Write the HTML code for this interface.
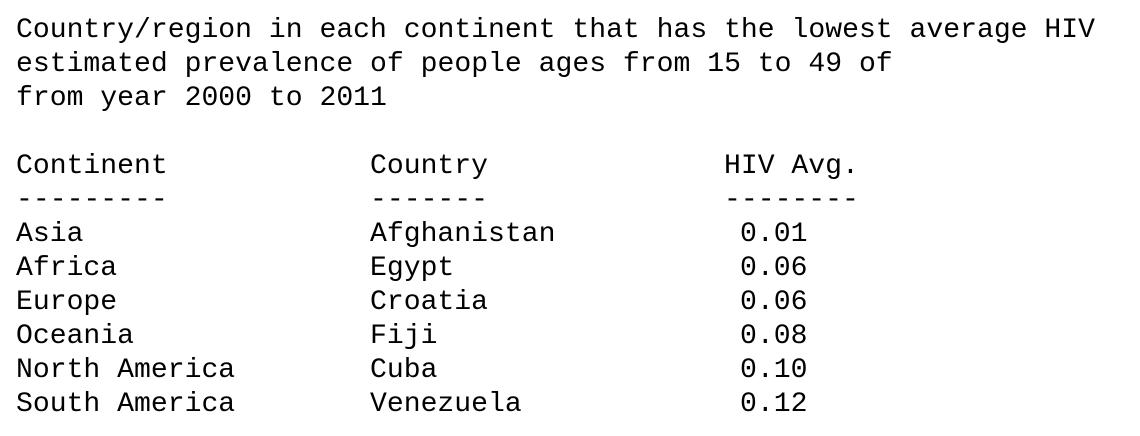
<!DOCTYPE html>
<html>
<head>
<meta charset="utf-8">
<style>
  html,body{margin:0;padding:0;background:#fff;}
  body{width:1140px;height:436px;position:relative;overflow:hidden;
       font-family:"Liberation Mono",monospace;font-size:28.1px;color:#000;}
  .l{position:absolute;white-space:pre;line-height:34px;height:34px;}
</style>
</head>
<body>
<div class="l" style="left:16px;top:14px">Country/region in each continent that has the lowest average HIV</div>
<div class="l" style="left:16px;top:48px">estimated prevalence of people ages from 15 to 49 of</div>
<div class="l" style="left:16px;top:82px">from year 2000 to 2011</div>

<div class="l" style="left:16px;top:150px">Continent</div>
<div class="l" style="left:370px;top:150px">Country</div>
<div class="l" style="left:724px;top:150px">HIV Avg.</div>
<div class="l" style="left:16px;top:184px">---------</div>
<div class="l" style="left:370px;top:184px">-------</div>
<div class="l" style="left:724px;top:184px">--------</div>

<div id="rows"></div>
<script>
const continents=["Asia","Africa","Europe","Oceania","North America","South America"];
const countries=["Afghanistan","Egypt","Croatia","Fiji","Cuba","Venezuela"];
const hivAvg=[0.01,0.06,0.06,0.08,0.10,0.12];
const rows=document.getElementById('rows');
continents.forEach((c,i)=>{
  const top=218+i*34;
  const a=document.createElement('div');a.className='l';a.style.left='16px';a.style.top=top+'px';a.textContent=c;
  
  
  const b=document.createElement('div');b.className='l';b.style.left='370px';b.style.top=top+'px';b.textContent=countries[i];
  
  
  const v=document.createElement('div');v.className='l';v.style.left='740px';v.style.top=top+'px';v.textContent=hivAvg[i].toFixed(2);
  
  
  rows.appendChild(a);rows.appendChild(b);rows.appendChild(v);
});
</script>
</body>
</html>
